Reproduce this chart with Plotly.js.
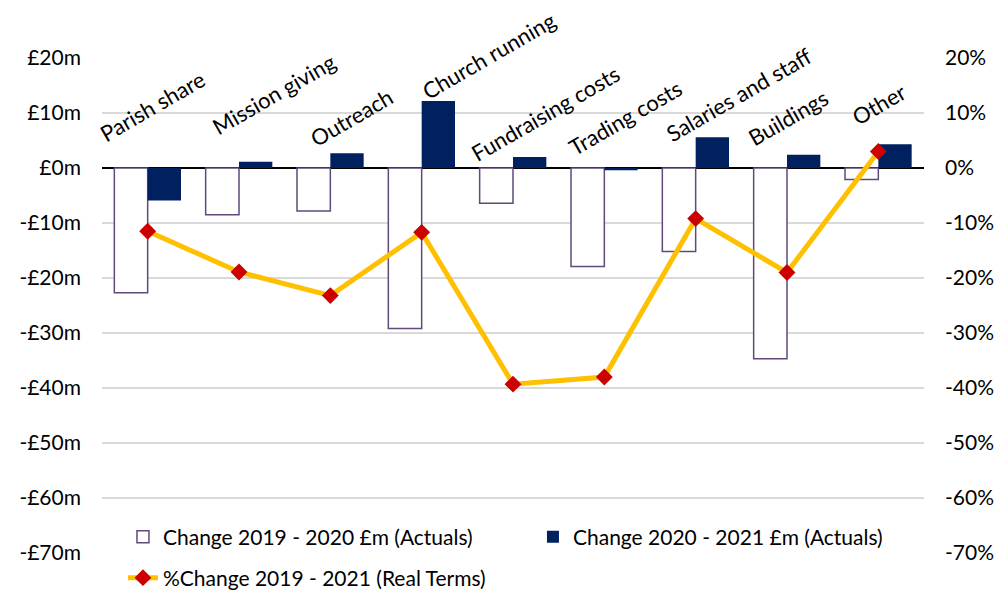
<!DOCTYPE html>
<html><head><meta charset="utf-8">
<script src="https://cdn.plot.ly/plotly-3.0.1.min.js"></script>
<style>html,body{margin:0;padding:0;background:#fff}#chart{width:996px;height:594px}</style>
</head><body><div id="chart"></div>
<script>
const categories = ['Parish share','Mission giving','Outreach','Church running','Fundraising costs','Trading costs','Salaries and staff','Buildings','Other'];
const change1920 = [-22.7,-8.5,-7.8,-29.2,-6.4,-17.9,-15.2,-34.7,-2.1];
const change2021 = [-5.9,1.15,2.7,12.2,2.0,-0.4,5.6,2.4,4.3];
const pctChange = [-11.5,-18.9,-23.2,-11.7,-39.3,-38.0,-9.2,-19.0,3.0];
const tickVals = [20,10,0,-10,-20,-30,-40,-50,-60,-70];
const leftTickText = ['£20m','£10m','£0m','-£10m','-£20m','-£30m','-£40m','-£50m','-£60m','-£70m'];
const rightTickText = ['20%','10%','0%','-10%','-20%','-30%','-40%','-50%','-60%','-70%'];
const seriesNames = ['Change 2019 - 2020 £m (Actuals)','Change 2020 - 2021 £m (Actuals)','%Change 2019 - 2021 (Real Terms)'];

// label placement (layout only, pixel offsets from category centre on the zero line)
const labelShiftX = [4,34,21,67,32,21,43,1,0];
const labelShiftY = [62,74,51,113,55,51,74,51,64];

const FONT = 'Lato, "Open Sans", sans-serif';

const traces = [
  {type:'bar', x:categories, y:change1920, name:seriesNames[0], legend:'legend',
   marker:{color:'#ffffff', line:{color:'#604A7B', width:1.5}}},
  {type:'bar', x:categories, y:change2021, name:seriesNames[1], legend:'legend',
   marker:{color:'#002060', line:{width:0}}},
  {type:'scatter', mode:'lines+markers', x:categories, y:pctChange, name:seriesNames[2], yaxis:'y2', legend:'legend2',
   line:{color:'#FFC000', width:5}, marker:{symbol:'diamond', size:13, color:'#CC0000'}}
];

const annotations = categories.map((c,i)=>({
  x:c, y:0, xref:'x', yref:'y', text:c, showarrow:false,
  textangle:-30, xanchor:'center', yanchor:'middle', xshift:labelShiftX[i], yshift:labelShiftY[i],
  font:{family:FONT, size:22, color:'#000'}
}));

const layout = {
  width:996, height:594,
  margin:{l:102, r:72, t:58, b:41, autoexpand:false},
  paper_bgcolor:'#fff', plot_bgcolor:'#fff',
  font:{family:FONT, size:21, color:'#000'},
  barmode:'group', bargap:0.27, bargroupgap:0,
  xaxis:{type:'category', range:[-0.5, categories.length-0.5], autorange:false, showticklabels:false, showgrid:false, ticks:'', showline:false, zeroline:false},
  yaxis:{range:[-70,20], autorange:false, tickvals:tickVals, ticktext:leftTickText, showgrid:true, gridcolor:'#d9d9d9', gridwidth:1.5,
         zeroline:true, zerolinecolor:'#000', zerolinewidth:2, ticks:'', ticklabelstandoff:20, showline:false,
         tickfont:{family:FONT, size:21}},
  yaxis2:{range:[-70,20], autorange:false, overlaying:'y', side:'right', tickvals:tickVals, ticktext:rightTickText, showgrid:false,
          zeroline:false, ticks:'', ticklabelstandoff:20, showline:false, tickfont:{family:FONT, size:21}},
  showlegend:true,
  legend:{orientation:'h', x:0.0255, xanchor:'left', y:0.032, yanchor:'middle', bgcolor:'rgba(0,0,0,0)',
          font:{family:FONT, size:21}, itemwidth:30, entrywidth:365, entrywidthmode:'pixels', traceorder:'normal'},
  legend2:{orientation:'h', x:0.0255, xanchor:'left', y:-0.0505, yanchor:'middle', bgcolor:'rgba(0,0,0,0)',
          font:{family:FONT, size:21}, itemwidth:30},
  annotations:annotations
};

Plotly.newPlot('chart', traces, layout, {displayModeBar:false, staticPlot:true});
</script></body></html>
